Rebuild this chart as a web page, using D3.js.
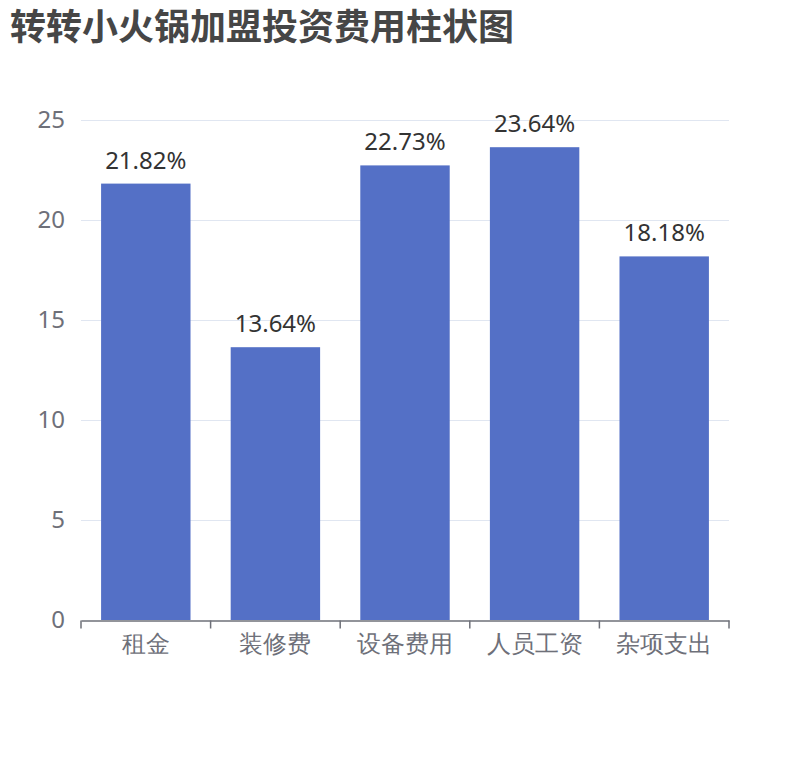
<!DOCTYPE html>
<html>
<head>
<meta charset="utf-8">
<script src="https://cdn.jsdelivr.net/npm/d3@7/dist/d3.min.js"></script>
<style>
  html, body { margin: 0; padding: 0; background: #fff; }
  svg { display: block; font-family: "Noto Sans CJK SC", "Noto Sans", sans-serif; }
</style>
</head>
<body>
<svg id="chart" width="810" height="760"></svg>
<script>
// Chart data
const title = "转转小火锅加盟投资费用柱状图";
const categories = ["租金", "装修费", "设备费用", "人员工资", "杂项支出"];
const values = [21.82, 13.64, 22.73, 23.64, 18.18];
const labels = ["21.82%", "13.64%", "22.73%", "23.64%", "18.18%"];
const yTicks = [0, 5, 10, 15, 20, 25];

const svg = d3.select("#chart");
const margin = { left: 81, right: 81, top: 120, bottom: 140 };
const W = 810, H = 760;
const plotBottom = H - margin.bottom;
const numFont = "'Noto Sans', 'Noto Sans CJK SC', sans-serif";

const x = d3.scaleBand()
  .domain(categories)
  .range([margin.left, W - margin.right])
  .paddingInner(0).paddingOuter(0);

const y = d3.scaleLinear()
  .domain([0, 25])
  .range([plotBottom, margin.top]);

// Title
svg.append("text")
  .attr("x", 10).attr("y", 40)
  .attr("font-size", 36)
  .attr("font-weight", "bold")
  .attr("fill", "#464646")
  .text(title);

// Horizontal grid lines
svg.append("g")
  .selectAll("line")
  .data(yTicks.filter(d => d !== 0))
  .join("line")
  .attr("x1", x.range()[0]).attr("x2", x.range()[1])
  .attr("y1", d => y(d) + 0.5).attr("y2", d => y(d) + 0.5)
  .attr("stroke", "#E0E6F1").attr("stroke-width", 1);

// Y axis labels
const yAxis = d3.axisLeft(y).tickValues(yTicks).tickSize(0).tickPadding(16);
const gy = svg.append("g")
  .attr("transform", `translate(${margin.left},0)`)
  .call(yAxis);
gy.select(".domain").remove();
gy.selectAll("text")
  .attr("font-size", 24)
  .attr("fill", "#6E7079")
  .attr("font-family", numFont);

// Bars
const barFrac = 0.69;
const bw = x.bandwidth() * barFrac;
svg.append("g")
  .selectAll("rect")
  .data(categories)
  .join("rect")
  .attr("x", (d) => x(d) + (x.bandwidth() - bw) / 2)
  .attr("width", bw)
  .attr("y", (d, i) => y(values[i]))
  .attr("height", (d, i) => y(0) - y(values[i]))
  .attr("fill", "#5470C6");

// Value labels
svg.append("g")
  .selectAll("text")
  .data(categories)
  .join("text")
  .attr("x", d => x(d) + x.bandwidth() / 2)
  .attr("y", (d, i) => y(values[i]) - 15)
  .attr("text-anchor", "middle")
  .attr("font-size", 24)
  .attr("fill", "#333")
  .attr("font-family", numFont)
  .text((d, i) => labels[i]);

// X axis
const xAxis = d3.axisBottom(x).tickSize(0).tickPadding(14);
const gx = svg.append("g")
  .attr("transform", `translate(0,${plotBottom + 0.5})`)
  .call(xAxis);
gx.select(".domain").attr("stroke", "#6E7079").attr("stroke-width", 1.5);
gx.selectAll("text")
  .attr("font-size", 24)
  .attr("fill", "#6E7079");

// Boundary ticks between categories
const bounds = categories.map(c => x(c)).concat([x.range()[1]]);
gx.append("g")
  .selectAll("line")
  .data(bounds)
  .join("line")
  .attr("x1", d => d).attr("x2", d => d)
  .attr("y1", 0).attr("y2", 8)
  .attr("stroke", "#6E7079").attr("stroke-width", 1.5);
</script>
</body>
</html>
